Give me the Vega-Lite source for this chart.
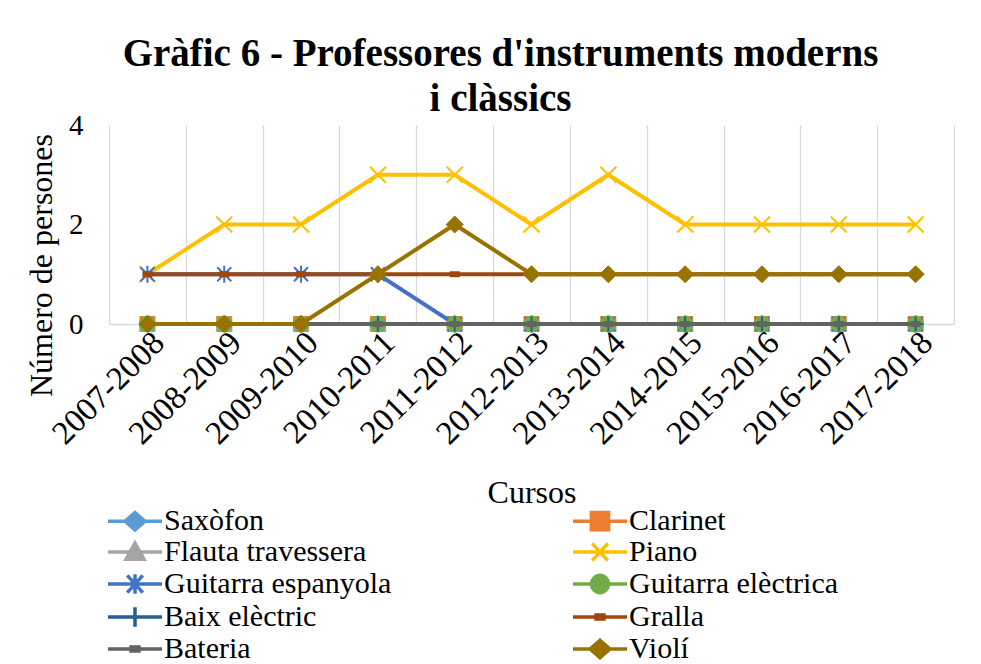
{
  "$schema": "https://vega.github.io/schema/vega-lite/v6.json",
  "width": 845,
  "height": 199,
  "autosize": {"type": "none"},
  "padding": {"left": 109, "top": 125, "right": 27, "bottom": 340},
  "background": "white",
  "title": {
    "text": ["Gràfic 6 -  Professores d'instruments moderns", "i clàssics"],
    "font": "Liberation Serif",
    "fontSize": 39,
    "fontWeight": "bold",
    "color": "black",
    "lineHeight": 45,
    "anchor": "middle",
    "frame": "group",
    "dx": -31,
    "offset": -8
  },
  "config": {
    "view": {"stroke": null},
    "font": "Liberation Serif",
    "legend": {
      "orient": "none",
      "legendX": 11,
      "legendY": 381,
      "direction": "horizontal",
      "columns": 2,
      "columnPadding": 174,
      "rowPadding": -1,
      "labelFont": "Liberation Serif",
      "labelFontSize": 30,
      "labelColor": "black",
      "labelOffset": 14,
      "labelLimit": 400,
      "symbolSize": 576,
      "symbolStrokeWidth": 3.5,
      "symbolOpacity": 1,
      "padding": 0
    }
  },
  "data": {
    "values": [
      {"curs": "2007-2008", "Saxòfon": 0, "Clarinet": 0, "Flauta travessera": 0, "Piano": 1, "Guitarra espanyola": 1, "Guitarra elèctrica": 0, "Baix elèctric": 0, "Gralla": 1, "Bateria": 0, "Violí": 0},
      {"curs": "2008-2009", "Saxòfon": 0, "Clarinet": 0, "Flauta travessera": 0, "Piano": 2, "Guitarra espanyola": 1, "Guitarra elèctrica": 0, "Baix elèctric": 0, "Gralla": 1, "Bateria": 0, "Violí": 0},
      {"curs": "2009-2010", "Saxòfon": 0, "Clarinet": 0, "Flauta travessera": 0, "Piano": 2, "Guitarra espanyola": 1, "Guitarra elèctrica": 0, "Baix elèctric": 0, "Gralla": 1, "Bateria": 0, "Violí": 0},
      {"curs": "2010-2011", "Saxòfon": 0, "Clarinet": 0, "Flauta travessera": 0, "Piano": 3, "Guitarra espanyola": 1, "Guitarra elèctrica": 0, "Baix elèctric": 0, "Gralla": 1, "Bateria": 0, "Violí": 1},
      {"curs": "2011-2012", "Saxòfon": 0, "Clarinet": 0, "Flauta travessera": 0, "Piano": 3, "Guitarra espanyola": 0, "Guitarra elèctrica": 0, "Baix elèctric": 0, "Gralla": 1, "Bateria": 0, "Violí": 2},
      {"curs": "2012-2013", "Saxòfon": 0, "Clarinet": 0, "Flauta travessera": 0, "Piano": 2, "Guitarra espanyola": 0, "Guitarra elèctrica": 0, "Baix elèctric": 0, "Gralla": 1, "Bateria": 0, "Violí": 1},
      {"curs": "2013-2014", "Saxòfon": 0, "Clarinet": 0, "Flauta travessera": 0, "Piano": 3, "Guitarra espanyola": 0, "Guitarra elèctrica": 0, "Baix elèctric": 0, "Gralla": 1, "Bateria": 0, "Violí": 1},
      {"curs": "2014-2015", "Saxòfon": 0, "Clarinet": 0, "Flauta travessera": 0, "Piano": 2, "Guitarra espanyola": 0, "Guitarra elèctrica": 0, "Baix elèctric": 0, "Gralla": 1, "Bateria": 0, "Violí": 1},
      {"curs": "2015-2016", "Saxòfon": 0, "Clarinet": 0, "Flauta travessera": 0, "Piano": 2, "Guitarra espanyola": 0, "Guitarra elèctrica": 0, "Baix elèctric": 0, "Gralla": 1, "Bateria": 0, "Violí": 1},
      {"curs": "2016-2017", "Saxòfon": 0, "Clarinet": 0, "Flauta travessera": 0, "Piano": 2, "Guitarra espanyola": 0, "Guitarra elèctrica": 0, "Baix elèctric": 0, "Gralla": 1, "Bateria": 0, "Violí": 1},
      {"curs": "2017-2018", "Saxòfon": 0, "Clarinet": 0, "Flauta travessera": 0, "Piano": 2, "Guitarra espanyola": 0, "Guitarra elèctrica": 0, "Baix elèctric": 0, "Gralla": 1, "Bateria": 0, "Violí": 1}
    ]
  },
  "transform": [
    {"fold": ["Saxòfon", "Clarinet", "Flauta travessera", "Piano", "Guitarra espanyola", "Guitarra elèctrica", "Baix elèctric", "Gralla", "Bateria", "Violí"], "as": ["instrument", "valor"]}
  ],
  "encoding": {
    "x": {
      "field": "curs", "type": "ordinal",
      "scale": {"type": "band", "paddingInner": 0, "paddingOuter": 0},
      "axis": {
        "title": "Cursos", "labelAngle": -45, "labelFont": "Liberation Serif", "labelFontSize": 33,
        "labelColor": "black", "titleColor": "black", "titleFont": "Liberation Serif", "titleFontSize": 32,
        "titleFontWeight": "normal", "grid": true, "gridColor": "#d9d9d9", "gridWidth": 1.3, "tickBand": "extent",
        "ticks": false, "domainColor": "#d9d9d9", "domainWidth": 1.3, "labelPadding": 2, "titlePadding": 27
      }
    },
    "y": {
      "field": "valor", "type": "quantitative",
      "scale": {"domain": [0, 4], "nice": false},
      "axis": {
        "title": "Número de persones", "values": [0, 2, 4], "grid": false, "domain": false, "ticks": false,
        "labelFont": "Liberation Serif", "labelFontSize": 29, "labelColor": "black", "labelPadding": 26,
        "titleFont": "Liberation Serif", "titleFontSize": 32, "titleFontWeight": "normal", "titleColor": "black",
        "titleX": -68, "titleY": 140, "titleAngle": -90, "titleAlign": "center", "titleBaseline": "middle"
      }
    },
    "stroke": {
      "field": "instrument", "type": "nominal", "title": null,
      "scale": {
        "domain": ["Saxòfon", "Clarinet", "Flauta travessera", "Piano", "Guitarra espanyola", "Guitarra elèctrica", "Baix elèctric", "Gralla", "Bateria", "Violí"],
        "range": ["#5B9BD5", "#ED7D31", "#A5A5A5", "#FFC000", "#4472C4", "#70AD47", "#255E91", "#9E480E", "#636363", "#997300"]
      }
    }
  },
  "layer": [
    {"transform": [{"filter": {"field": "instrument", "equal": "Saxòfon"}}], "mark": {"type": "line", "strokeWidth": 4}},
    {"transform": [{"filter": {"field": "instrument", "equal": "Saxòfon"}}], "mark": {"type": "point", "shape": "M0,-1L1,0L0,1L-1,0Z", "size": 256, "filled": true, "fill": "#5B9BD5", "opacity": 1, "strokeWidth": 1}},
    {"transform": [{"filter": {"field": "instrument", "equal": "Clarinet"}}], "mark": {"type": "line", "strokeWidth": 4}},
    {"transform": [{"filter": {"field": "instrument", "equal": "Clarinet"}}], "mark": {"type": "point", "shape": "M-1,-1H1V1H-1Z", "size": 225, "filled": true, "fill": "#ED7D31", "opacity": 1, "strokeWidth": 1}},
    {"transform": [{"filter": {"field": "instrument", "equal": "Flauta travessera"}}], "mark": {"type": "line", "strokeWidth": 4}},
    {"transform": [{"filter": {"field": "instrument", "equal": "Flauta travessera"}}], "mark": {"type": "point", "shape": "M0,-1L1,0.8H-1Z", "size": 256, "filled": true, "fill": "#A5A5A5", "opacity": 1, "strokeWidth": 1}},
    {"transform": [{"filter": {"field": "instrument", "equal": "Piano"}}], "mark": {"type": "line", "strokeWidth": 4}},
    {"transform": [{"filter": {"field": "instrument", "equal": "Piano"}}], "mark": {"type": "point", "shape": "M-1,-1L1,1M-1,1L1,-1", "size": 256, "filled": false, "opacity": 1, "strokeWidth": 2}},
    {"transform": [{"filter": {"field": "instrument", "equal": "Guitarra espanyola"}}], "mark": {"type": "line", "strokeWidth": 4}},
    {"transform": [{"filter": {"field": "instrument", "equal": "Guitarra espanyola"}}], "mark": {"type": "point", "shape": "M-1,-1L1,1M-1,1L1,-1M0,-1.2V1.2", "size": 196, "filled": false, "opacity": 1, "strokeWidth": 2}},
    {"transform": [{"filter": {"field": "instrument", "equal": "Guitarra elèctrica"}}], "mark": {"type": "line", "strokeWidth": 4}},
    {"transform": [{"filter": {"field": "instrument", "equal": "Guitarra elèctrica"}}], "mark": {"type": "point", "shape": "M1,0A1,1,0,1,1,-1,0A1,1,0,1,1,1,0Z", "size": 256, "filled": true, "fill": "#70AD47", "opacity": 1, "strokeWidth": 1}},
    {"transform": [{"filter": {"field": "instrument", "equal": "Baix elèctric"}}], "mark": {"type": "line", "strokeWidth": 4}},
    {"transform": [{"filter": {"field": "instrument", "equal": "Baix elèctric"}}], "mark": {"type": "point", "shape": "M0,-1V1M-1,0H1", "size": 225, "filled": false, "opacity": 1, "strokeWidth": 2}},
    {"transform": [{"filter": {"field": "instrument", "equal": "Gralla"}}], "mark": {"type": "line", "strokeWidth": 4}},
    {"transform": [{"filter": {"field": "instrument", "equal": "Gralla"}}], "mark": {"type": "point", "shape": "M-1,0H1", "size": 100, "filled": false, "opacity": 1, "strokeWidth": 6}},
    {"transform": [{"filter": {"field": "instrument", "equal": "Bateria"}}], "mark": {"type": "line", "strokeWidth": 4}},
    {"transform": [{"filter": {"field": "instrument", "equal": "Bateria"}}], "mark": {"type": "point", "shape": "M-1,0H1", "size": 100, "filled": false, "opacity": 1, "strokeWidth": 6}},
    {"transform": [{"filter": {"field": "instrument", "equal": "Violí"}}], "mark": {"type": "line", "strokeWidth": 4}},
    {"transform": [{"filter": {"field": "instrument", "equal": "Violí"}}], "mark": {"type": "point", "shape": "M0,-1L1,0L0,1L-1,0Z", "size": 289, "filled": true, "fill": "#997300", "opacity": 1, "strokeWidth": 1}},
    {
      "transform": [{"filter": {"field": "valor", "lt": 0}}],
      "mark": {"type": "point", "filled": true, "opacity": 1},
      "encoding": {
        "fill": {
          "field": "instrument", "type": "nominal", "title": null,
          "scale": {
            "domain": ["Saxòfon", "Clarinet", "Flauta travessera", "Piano", "Guitarra espanyola", "Guitarra elèctrica", "Baix elèctric", "Gralla", "Bateria", "Violí"],
            "range": ["#5B9BD5", "#ED7D31", "#A5A5A5", "#FFC000", "#4472C4", "#70AD47", "#255E91", "#9E480E", "#636363", "#997300"]
          }
        },
        "shape": {
          "field": "instrument", "type": "nominal", "title": null,
          "scale": {
            "domain": ["Saxòfon", "Clarinet", "Flauta travessera", "Piano", "Guitarra espanyola", "Guitarra elèctrica", "Baix elèctric", "Gralla", "Bateria", "Violí"],
            "range": [
              "M-2.25,0H2.25M0,-0.72L0.83,0L0,0.72L-0.83,0Z",
              "M-2.25,0H2.25M-0.72,-0.72H0.72V0.72H-0.72Z",
              "M-2.25,0H2.25M0,-0.75L0.75,0.6H-0.75Z",
              "M-2.25,0H2.25M-0.65,-0.72L0.65,0.72M-0.65,0.72L0.65,-0.72",
              "M-2.25,0H2.25M-0.65,-0.72L0.65,0.72M-0.65,0.72L0.65,-0.72M0,-0.82V0.82",
              "M-2.25,0H2.25M0.72,0A0.72,0.72,0,1,1,-0.72,0A0.72,0.72,0,1,1,0.72,0Z",
              "M-2.25,0H2.25M0,-0.82V0.82",
              "M-2.25,0H2.25M-0.33,-0.17H0.33V0.17H-0.33Z",
              "M-2.25,0H2.25M-0.33,-0.17H0.33V0.17H-0.33Z",
              "M-2.25,0H2.25M0,-0.72L0.83,0L0,0.72L-0.83,0Z"
            ]
          }
        }
      }
    }
  ]
}
